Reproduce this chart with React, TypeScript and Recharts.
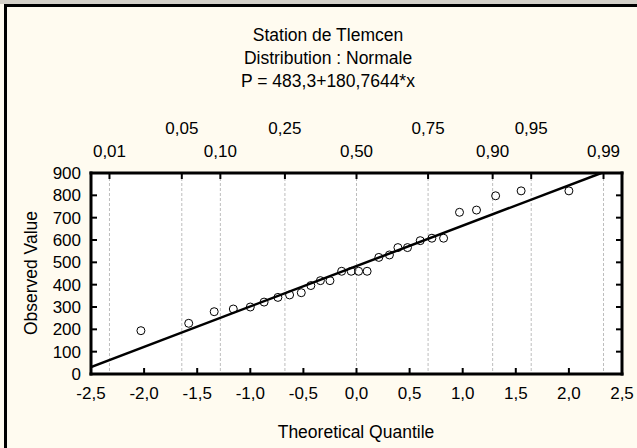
import React from 'react';
import { ScatterChart, Scatter, XAxis, YAxis, CartesianGrid } from 'recharts';

const quantiles = [
  -2.03, -1.58, -1.34, -1.16, -1.0, -0.87, -0.74, -0.63, -0.52, -0.43, -0.34, -0.25, -0.14, -0.05,
  0.02, 0.1, 0.21, 0.31, 0.39, 0.48, 0.6, 0.71, 0.82, 0.97, 1.13, 1.31, 1.55, 2.0,
];
const observed = [
  194, 227, 279, 291, 300, 322, 343, 354, 364, 396, 418, 418, 460, 460,
  460, 460, 522, 533, 566, 566, 597, 608, 608, 724, 734, 798, 820, 820,
];

// Fitted line P = 483,3 + 180,7644*x (end points as drawn)
const fitX = [-2.5, 2.305];
const fitY = [31.4, 900];

const xTicks = [-2.5, -2, -1.5, -1, -0.5, 0, 0.5, 1, 1.5, 2, 2.5];
const yTicks = [0, 100, 200, 300, 400, 500, 600, 700, 800, 900];
const probQuantiles = [-2.326, -1.645, -1.282, -0.674, 0, 0.674, 1.282, 1.645, 2.326];
const probLabels = ['0,01', '0,05', '0,10', '0,25', '0,50', '0,75', '0,90', '0,95', '0,99'];

const titleLines = ['Station de Tlemcen', 'Distribution : Normale', 'P = 483,3+180,7644*x'];

const FONT = '"Liberation Sans", Arial, sans-serif';
const FS = 17;
const FS_TITLE = 17.5;

const points = quantiles.map((q, i) => ({ x: q, y: observed[i] }));
const fitData = fitX.map((x, i) => ({ x, y: fitY[i] }));

const fmt = (v: number) => v.toFixed(1).replace('.', ',');

const BottomTick = (props: any) => {
  const { x, y, payload } = props;
  return (
    <g>
      <line x1={x} y1={y} x2={x} y2={y - 6} stroke="#000" strokeWidth={2} />
      <text x={x} y={y + 25} textAnchor="middle" fontFamily={FONT} fontSize={FS} fill="#000">
        {fmt(payload.value)}
      </text>
    </g>
  );
};

const TopTick = (props: any) => {
  const { x, y, payload, index } = props;
  const upper = index % 2 === 1;
  return (
    <g>
      <line x1={x} y1={y} x2={x} y2={y + 6} stroke="#000" strokeWidth={2} />
      <text x={x} y={upper ? y - 39 : y - 16} textAnchor="middle" fontFamily={FONT} fontSize={FS} fill="#000">
        {probLabels[index] ?? String(payload.value)}
      </text>
    </g>
  );
};

const LeftTick = (props: any) => {
  const { x, y, payload } = props;
  return (
    <g>
      <line x1={x} y1={y} x2={x + 6} y2={y} stroke="#000" strokeWidth={2} />
      <text x={x - 10} y={y} dy="0.36em" textAnchor="end" fontFamily={FONT} fontSize={FS} fill="#000">
        {payload.value}
      </text>
    </g>
  );
};

const RightTick = (props: any) => {
  const { x, y } = props;
  return <line x1={x} y1={y} x2={x - 6} y2={y} stroke="#000" strokeWidth={2} />;
};

const axisLine = { stroke: '#000', strokeWidth: 3, strokeLinecap: 'square' as const };

export default function App() {
  return (
    <div
      style={{
        position: 'absolute',
        left: 0,
        top: 0,
        width: 637,
        height: 448,
        background: '#FFFBF0',
        overflow: 'hidden',
        fontFamily: FONT,
      }}
    >
      <ScatterChart
        width={637}
        height={448}
        margin={{ top: 113, right: 10, bottom: 0, left: 31 }}
        style={{ position: 'absolute', left: 0, top: 0 }}
      >
        <CartesianGrid
          xAxisId="top"
          yAxisId="left"
          horizontal={false}
          vertical
          stroke="#bdbdbd"
          strokeDasharray="3 2"
          fill="#ffffff"
        />
        <XAxis
          xAxisId="bottom"
          type="number"
          dataKey="x"
          orientation="bottom"
          domain={[-2.5, 2.5]}
          ticks={xTicks}
          interval={0}
          height={74}
          tickSize={0}
          tickMargin={0}
          tickLine={false}
          axisLine={axisLine}
          tick={<BottomTick />}
          allowDataOverflow
        />
        <XAxis
          xAxisId="top"
          type="number"
          dataKey="x"
          orientation="top"
          domain={[-2.5, 2.5]}
          ticks={probQuantiles}
          interval={0}
          height={60}
          tickSize={0}
          tickMargin={0}
          tickLine={false}
          axisLine={axisLine}
          tick={<TopTick />}
          allowDataOverflow
        />
        <YAxis
          yAxisId="left"
          type="number"
          dataKey="y"
          orientation="left"
          domain={[0, 900]}
          ticks={yTicks}
          interval={0}
          width={60}
          tickSize={0}
          tickMargin={0}
          tickLine={false}
          axisLine={axisLine}
          tick={<LeftTick />}
          allowDataOverflow
        />
        <YAxis
          yAxisId="right"
          type="number"
          dataKey="y"
          orientation="right"
          domain={[0, 900]}
          ticks={yTicks}
          interval={0}
          width={5}
          tickSize={0}
          tickMargin={0}
          tickLine={false}
          axisLine={axisLine}
          tick={<RightTick />}
          allowDataOverflow
        />
        <Scatter
          xAxisId="bottom"
          yAxisId="left"
          data={fitData}
          line={{ stroke: '#000', strokeWidth: 2.5 }}
          shape={() => <g />}
          isAnimationActive={false}
        />
        <Scatter
          xAxisId="bottom"
          yAxisId="left"
          data={points}
          isAnimationActive={false}
          shape={(p: any) => (
            <circle cx={p.cx} cy={p.cy} r={4} fill="none" stroke="#000" strokeWidth={1} />
          )}
        />
      </ScatterChart>

      {/* window frame */}
      <div style={{ position: 'absolute', left: 0, top: 0, width: 637, height: 4, background: '#D4D0C8' }} />
      <div style={{ position: 'absolute', left: 4, top: 4, width: 633, height: 3, background: '#000' }} />
      <div style={{ position: 'absolute', left: 4, top: 4, width: 3, height: 444, background: '#000' }} />

      {/* titles */}
      {titleLines.map((t, i) => (
        <div
          key={i}
          style={{
            position: 'absolute',
            left: 178,
            width: 300,
            top: 25 + i * 23,
            height: 20,
            lineHeight: '20px',
            textAlign: 'center',
            fontSize: FS_TITLE,
            color: '#000',
            whiteSpace: 'nowrap',
          }}
        >
          {t}
        </div>
      ))}

      {/* axis titles */}
      <div
        style={{
          position: 'absolute',
          left: 206,
          width: 300,
          top: 422,
          height: 20,
          lineHeight: '20px',
          textAlign: 'center',
          fontSize: FS_TITLE,
          color: '#000',
          whiteSpace: 'nowrap',
        }}
      >
        Theoretical Quantile
      </div>
      <div
        style={{
          position: 'absolute',
          left: 31 - 100,
          width: 200,
          top: 273 - 10,
          height: 20,
          lineHeight: '20px',
          textAlign: 'center',
          fontSize: FS_TITLE,
          color: '#000',
          whiteSpace: 'nowrap',
          transform: 'rotate(-90deg)',
        }}
      >
        Observed Value
      </div>
    </div>
  );
}
